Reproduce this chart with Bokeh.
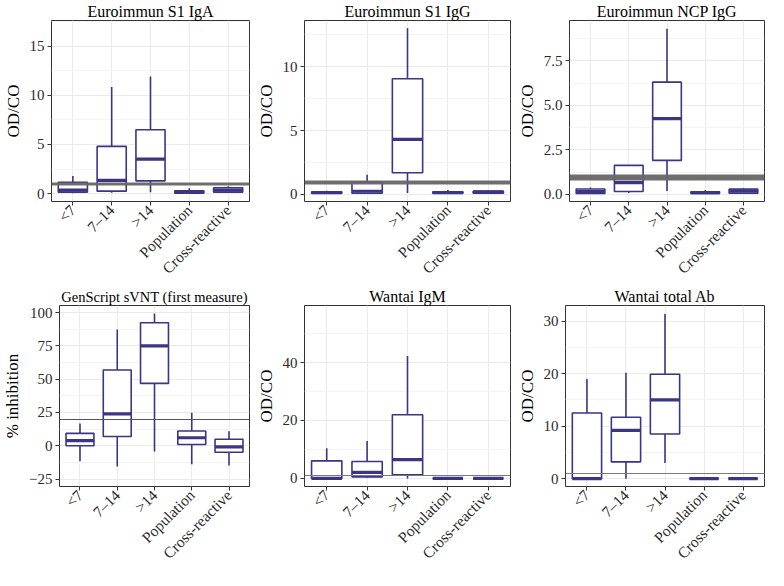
import math
from bokeh.plotting import figure
from bokeh.models import FactorRange, Range1d, FixedTicker, ColumnDataSource
from bokeh.transform import dodge
from bokeh.layouts import column, row
from bokeh.embed import file_html
from bokeh.resources import INLINE

# ---------------- data ----------------
groups = ["<7", "7–14", ">14", "Population", "Cross-reactive"]

titles = ["Euroimmun S1 IgA", "Euroimmun S1 IgG", "Euroimmun NCP IgG",
          "GenScript sVNT (first measure)", "Wantai IgM", "Wantai total Ab"]
ylabels = ["OD/CO", "OD/CO", "OD/CO", "% inhibition", "OD/CO", "OD/CO"]

# Euroimmun S1 IgA
iga_lower = [0.05, 0.1, 0.15, 0.02, 0.1]
iga_q1 = [0.15, 0.25, 1.3, 0.05, 0.15]
iga_med = [0.35, 1.35, 3.5, 0.15, 0.35]
iga_q3 = [1.15, 4.8, 6.5, 0.3, 0.6]
iga_upper = [1.8, 10.85, 11.9, 0.55, 0.75]

# Euroimmun S1 IgG
igg_lower = [0.05, 0.05, 0.12, 0.05, 0.05]
igg_q1 = [0.1, 0.1, 1.7, 0.1, 0.1]
igg_med = [0.15, 0.25, 4.3, 0.15, 0.2]
igg_q3 = [0.2, 0.95, 9.05, 0.2, 0.25]
igg_upper = [0.3, 1.55, 13.0, 0.35, 0.35]

# Euroimmun NCP IgG
ncp_lower = [0.02, 0.08, 0.19, 0.02, 0.02]
ncp_q1 = [0.05, 0.16, 1.91, 0.05, 0.07]
ncp_med = [0.15, 0.66, 4.25, 0.1, 0.2]
ncp_q3 = [0.3, 1.63, 6.3, 0.15, 0.3]
ncp_upper = [0.38, 1.63, 9.29, 0.25, 0.35]

# GenScript sVNT
gs_lower = [-11.6, -15.5, -4.4, -13.9, -14.8]
gs_q1 = [0.0, 6.9, 46.8, 0.9, -4.9]
gs_med = [3.9, 24.0, 75.0, 6.0, -0.9]
gs_q3 = [9.3, 56.9, 92.4, 11.1, 4.9]
gs_upper = [16.7, 87.3, 99.3, 24.8, 10.9]

# Wantai IgM
igm_lower = [0.0, 0.3, 0.0, 0.0, 0.0]
igm_q1 = [0.0, 0.53, 1.2, 0.0, 0.0]
igm_med = [0.0, 2.1, 6.5, 0.0, 0.0]
igm_q3 = [6.06, 5.85, 22.0, 0.0, 0.0]
igm_upper = [10.4, 12.9, 42.3, 0.0, 0.0]

# Wantai total Ab
tab_lower = [0.0, 0.0, 3.0, 0.0, 0.0]
tab_q1 = [0.0, 3.2, 8.5, 0.0, 0.0]
tab_med = [0.0, 9.2, 15.0, 0.0, 0.0]
tab_q3 = [12.5, 11.7, 19.9, 0.0, 0.0]
tab_upper = [19.0, 20.2, 31.4, 0.0, 0.0]

# cut-offs: band (borderline zone) for Euroimmun, line for others
iga_band = [0.8, 1.1]
igg_band = [0.8, 1.1]
ncp_band = [0.8, 1.1]
gs_cut = 20
igm_cut = 1
tab_cut = 1

y_limits = [(-0.8, 17.6), (-0.55, 13.6), (-0.4, 9.76),
            (-30.6, 105.3), (-2.8, 59.7), (-1.5, 33.0)]
y_ticks = [[0, 5, 10, 15], [0, 5, 10], [0, 2.5, 5, 7.5],
           [-25, 0, 25, 50, 75, 100], [0, 20, 40], [0, 10, 20, 30]]
y_minor = [[2.5, 7.5, 12.5, 17.5], [2.5, 7.5, 12.5], [1.25, 3.75, 6.25, 8.75],
           [-12.5, 12.5, 37.5, 62.5, 87.5], [10, 30, 50], [5, 15, 25]]
y_tick_labels = [["0", "5", "10", "15"], ["0", "5", "10"], ["0.0", "2.5", "5.0", "7.5"],
                 ["−25", "0", "25", "50", "75", "100"], ["0", "20", "40"],
                 ["0", "10", "20", "30"]]

stats = [
    (iga_lower, iga_q1, iga_med, iga_q3, iga_upper),
    (igg_lower, igg_q1, igg_med, igg_q3, igg_upper),
    (ncp_lower, ncp_q1, ncp_med, ncp_q3, ncp_upper),
    (gs_lower, gs_q1, gs_med, gs_q3, gs_upper),
    (igm_lower, igm_q1, igm_med, igm_q3, igm_upper),
    (tab_lower, tab_q1, tab_med, tab_q3, tab_upper),
]
cutoffs = [("band", iga_band), ("band", igg_band), ("band", ncp_band),
           ("line", gs_cut), ("line", igm_cut), ("line", tab_cut)]

# ---------------- styling / layout ----------------
FONT = "Liberation Serif"
BOX = "#3a3585"
widths = [253, 261, 254]
lefts = [[42, 48, 55], [44, 48, 51]]
tops = [12, 16]
heights = [285, 285]
bottoms = [60, 60]
title_sizes = ["16px", "16px", "16px", "14.5px", "16px", "16px"]


def make_panel(i, r, c):
    lower, q1, med, q3, upper = stats[i]
    src = ColumnDataSource(dict(g=groups, lower=lower, q1=q1, med=med, q3=q3, upper=upper))
    p = figure(x_range=FactorRange(factors=groups, range_padding=0.02),
               y_range=Range1d(*y_limits[i]),
               width=widths[c], height=heights[r],
               min_border_left=lefts[r][c], min_border_right=4,
               min_border_top=tops[r], min_border_bottom=bottoms[r],
               output_backend="svg", toolbar_location=None,
               background_fill_color="white", border_fill_color="white")
    p.title.text = titles[i]
    p.title.align = "center"
    p.title.text_font = FONT
    p.title.text_font_size = title_sizes[i]
    p.title.text_font_style = "normal"
    p.title.text_color = "black"
    p.title.standoff = 1

    p.outline_line_color = "#333333"
    p.outline_line_width = 1
    p.xgrid.grid_line_color = "#ebebeb"
    p.ygrid.grid_line_color = "#ebebeb"
    p.ygrid.minor_grid_line_color = "#f4f4f4"

    p.yaxis.ticker = FixedTicker(ticks=y_ticks[i], minor_ticks=y_minor[i])
    p.yaxis.major_label_overrides = {t: l for t, l in zip(y_ticks[i], y_tick_labels[i])}
    p.yaxis.minor_tick_line_color = None
    for ax in (p.xaxis[0], p.yaxis[0]):
        ax.axis_line_color = None
        ax.major_tick_line_color = "#333333"
        ax.major_tick_in = 0
        ax.major_tick_out = 4
        ax.major_label_text_font = FONT
        ax.major_label_text_color = "#2a2a2a"
        ax.major_label_standoff = 3
    p.xaxis.major_label_standoff = 2
    p.xaxis.major_label_text_font_size = "15.5px"
    p.xaxis.major_label_text_line_height = 0.8
    p.yaxis.major_label_text_font_size = "15px"
    p.xaxis.major_label_orientation = math.pi / 4
    p.yaxis.axis_label = ylabels[i]
    p.yaxis.axis_label_text_font = FONT
    p.yaxis.axis_label_text_font_size = "17px"
    p.yaxis.axis_label_text_font_style = "normal"
    p.yaxis.axis_label_text_color = "black"
    p.yaxis.axis_label_standoff = 4

    p.segment(x0="g", y0="q3", x1="g", y1="upper", source=src, line_color=BOX, line_width=1.6)
    p.segment(x0="g", y0="q1", x1="g", y1="lower", source=src, line_color=BOX, line_width=1.6)
    p.vbar(x="g", width=0.75, bottom="q1", top="q3", source=src,
           fill_color="white", line_color=BOX, line_width=1.6)
    p.segment(x0=dodge("g", -0.375, range=p.x_range), y0="med",
              x1=dodge("g", 0.375, range=p.x_range), y1="med",
              source=src, line_color=BOX, line_width=3.2)

    kind, val = cutoffs[i]
    if kind == "band":
        p.hstrip(y0=[val[0]], y1=[val[1]], fill_color="#666666", fill_alpha=0.95, line_color=None)
    else:
        p.hspan(y=[val], line_color="#555555" if i == 3 else "#7a7a7a", line_width=1)
    return p


rows = []
for r in range(2):
    rows.append(row(*[make_panel(r * 3 + c, r, c) for c in range(3)]))
layout = column(*rows)

open("out.html", "w").write(file_html(layout, INLINE))
